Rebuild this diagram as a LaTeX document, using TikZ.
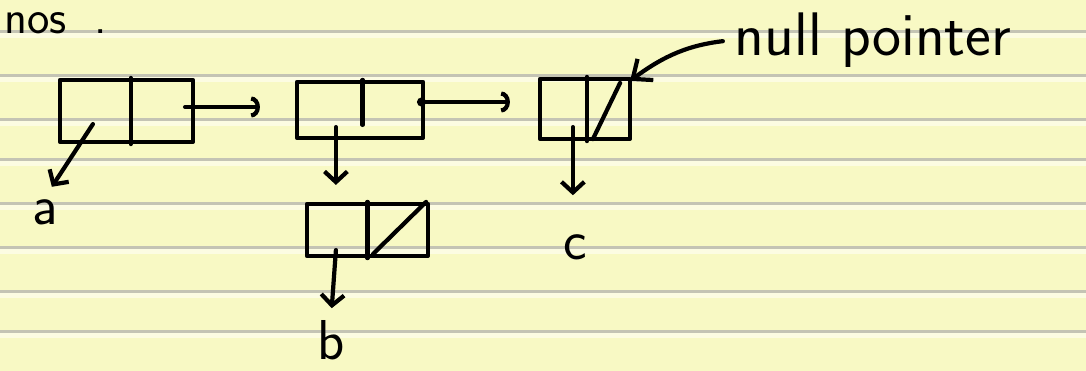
\documentclass[tikz,border=0pt]{standalone}
\usepackage{xcolor}
\usepackage{tikz}
\usetikzlibrary{arrows.meta,calc}
\definecolor{paper}{RGB}{248,249,196}
\definecolor{rule}{RGB}{196,196,180}
\definecolor{glare}{RGB}{252,252,226}
\begin{document}
\begin{tikzpicture}[x=0.02cm, y=-0.02cm, line width=2.4pt, line cap=round, line join=round,
  cell/.style={draw, inner sep=0pt},
  lbl/.style={inner sep=0pt, font=\fontsize{32}{36}\selectfont\sffamily},
  nextptr/.style={-{Arc Barb[length=5pt,width=12pt]}},
  dotptr/.style={{Circle[length=5pt]}-{Arc Barb[length=5pt,width=12pt]}},
  downptr/.style={-{Straight Barb[length=6pt,width=13pt]}}]
  \fill[paper] (0,0) rectangle (1086,371);
  \useasboundingbox (0,0) rectangle (1086,371);
  \foreach \y in {32,76,120,160,204,248,292,332} {
    \draw[rule, line width=2pt] (0,\y) -- (1086,\y);
    \draw[glare, line width=2.5pt] (0,\y+3.5) -- (1086,\y+3.5);
  }
  \node[lbl, anchor=base west, font=\fontsize{27}{31}\selectfont\sffamily] (title) at (2,34) {nos\hspace{0.6em}.};
  \node[cell, minimum width=2.66cm, minimum height=1.24cm] (first) at (126.5,111) {};
  \node[cell, minimum width=2.52cm, minimum height=1.12cm] (second) at (360,110) {};
  \node[cell, minimum width=1.80cm, minimum height=1.20cm] (third) at (585,109) {};
  \node[cell, minimum width=2.42cm, minimum height=1.04cm] (sub) at (367.5,230) {};
  \node[lbl] (a) at (45,212) {a};
  \node[lbl] (b) at (331,340) {b};
  \node[lbl] (c) at (575,247) {c};
  \node[lbl, font=\fontsize{35}{40}\selectfont\sffamily] (np) at (873,40) {null pointer};
  \draw ($(first.north west)!.53!(first.north east)$) -- ($(first.south west)!.53!(first.south east)$);
  \draw ($(second.north west)!.52!(second.north east)$) -- ++(0,45);
  \draw ($(third.north west)!.52!(third.north east)$) -- ($(third.south west)!.52!(third.south east)$);
  \draw ($(third.north east)+(-12,6)$) -- ($(third.south west)+(55,-2)$);
  \draw ($(sub.north west)!.5!(sub.north east)$) -- ($(sub.south west)!.5!(sub.south east)$);
  \draw ($(sub.north east)+(-4,0)$) -- ($(sub.south west)+(68,-4)$);
  \coordinate (p1) at ($(first.east)+(-10,-4)$);
  \coordinate (p2) at ($(second.east)+(-8,-8)$);
  \coordinate (p3) at ($(first.south west)+(35,-20)$);
  \coordinate (p4) at ($(second.south west)+(41,-13)$);
  \coordinate (p5) at ($(third.south west)+(35,-14)$);
  \coordinate (p6) at ($(sub.south west)+(31,-8)$);
  \draw[nextptr, shorten >=0.7cm] (p1) -- (p1 -| second.west);
  \draw[dotptr, shorten >=0.56cm] (p2) -- (p2 -| third.west);
  \draw[downptr, shorten >=0.25cm] (p3) -- (a.north);
  \draw[downptr, shorten >=0.34cm] (p4) -- (p4 |- sub.north);
  \draw[downptr, shorten >=0.74cm] (p5) -- (p5 |- c.north);
  \draw[downptr, shorten >=0.2cm] (p6) -- (b.north);
  \draw[-{Straight Barb[length=9pt,width=15pt]}, shorten <=0.2cm] (np.west) to[bend right=15] ($(third.north east)+(-2,4)$);
\end{tikzpicture}
\end{document}
